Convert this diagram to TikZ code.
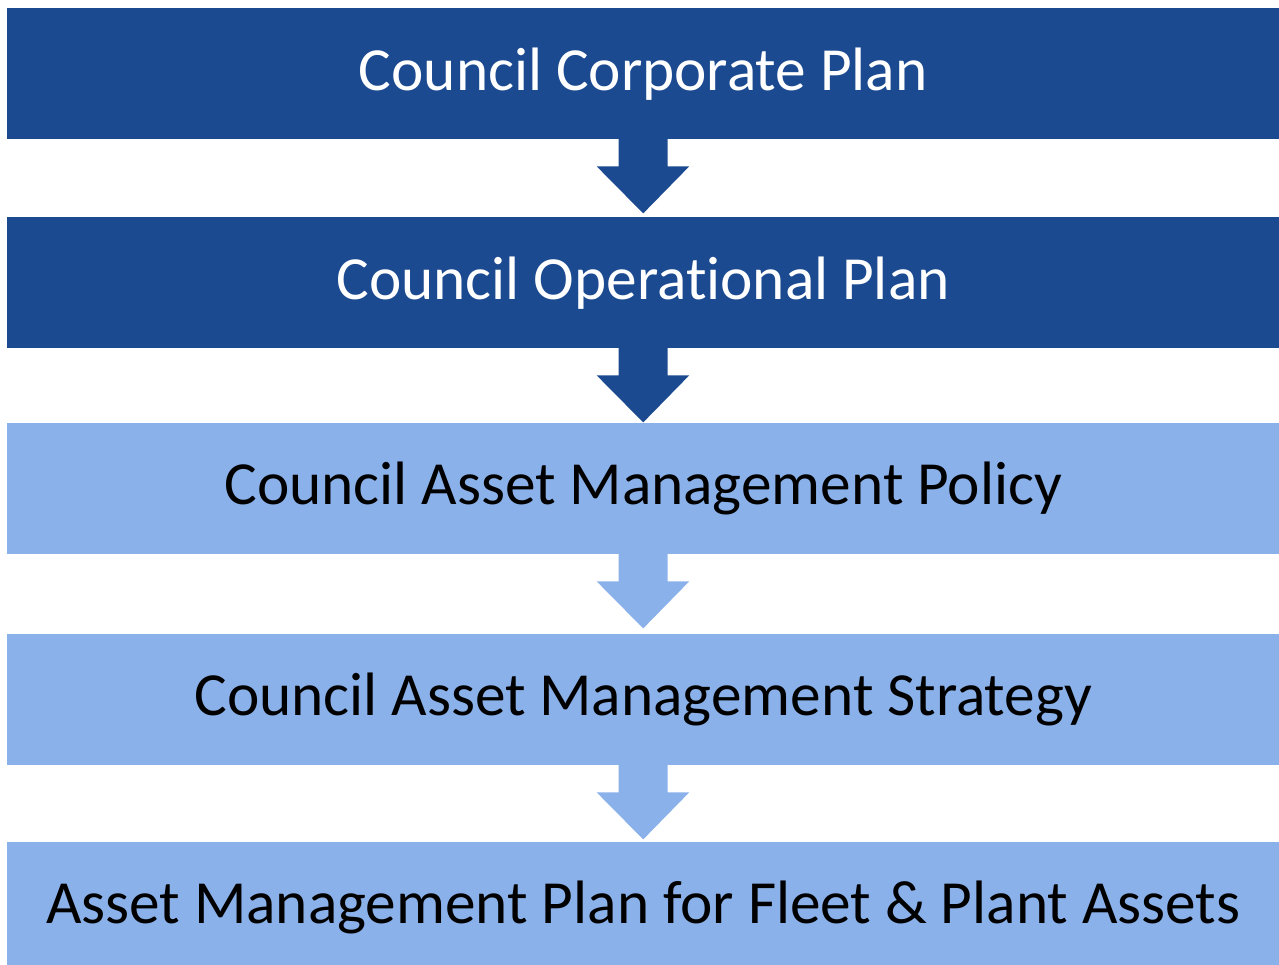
\documentclass[tikz,border=0pt]{standalone}
\usepackage{fontspec}
\setmainfont[Ligatures=NoCommon]{Carlito}
\usetikzlibrary{calc}
\definecolor{darkband}{HTML}{1B4A91}
\definecolor{lightband}{HTML}{8AB1E9}
\tikzset{
  band/.style={rectangle, inner sep=0pt, minimum width=1272pt, minimum height=131pt,
    font=\fontsize{61.3}{63}\selectfont, anchor=north west},
  darkbox/.style={band, fill=darkband, text=white},
  lightbox/.style={band, fill=lightband, text=black},
}
% block arrow pointing down from the bottom edge of one band
\newcommand\blockarrowdown[2]{%
  \fill[#2] ($(#1.south)+(-24.5pt,1pt)$) -- ++(0,-28pt) -- ++(-22pt,0)
    -- ($(#1.south)+(0,-74pt)$) -- ($(#1.south)+(46pt,-27pt)$)
    -- ++(-21.5pt,0) -- ++(0,28pt) -- cycle;}
\begin{document}
\begin{tikzpicture}[x=1pt,y=-1pt]
  \useasboundingbox (0,0) rectangle (1279,965);
  \node[darkbox]  (b1) at (7,8)   {Council Corporate Plan};
  \node[darkbox]  (b2) at (7,217) {Council Operational Plan};
  \node[lightbox] (b3) at (7,423) {Council Asset Management Policy};
  \node[lightbox] (b4) at (7,634) {Council Asset Management Strategy};
  \node[lightbox] (b5) at (7,842) {Asset Management Plan for Fleet \& Plant Assets};
  \blockarrowdown{b1}{darkband}
  \blockarrowdown{b2}{darkband}
  \blockarrowdown{b3}{lightband}
  \blockarrowdown{b4}{lightband}
\end{tikzpicture}
\end{document}
